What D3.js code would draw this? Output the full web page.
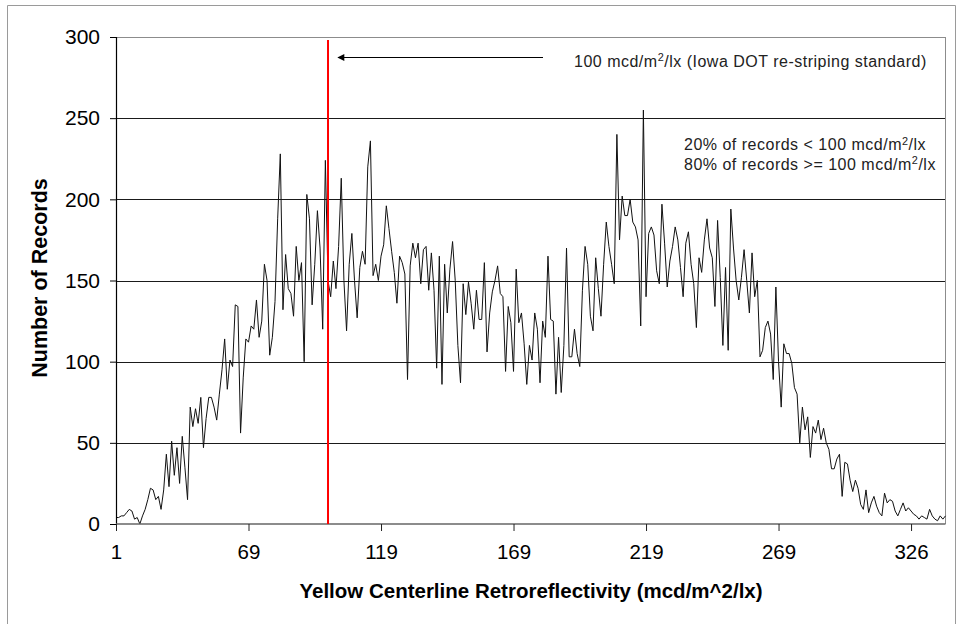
<!DOCTYPE html>
<html>
<head>
<meta charset="utf-8">
<script src="https://cdn.jsdelivr.net/npm/d3@7"></script>
<style>
  html, body { margin: 0; padding: 0; background: #fff; }
  svg { display: block; font-family: "Liberation Sans", Arial, sans-serif; }
</style>
</head>
<body>
<div id="chart"></div>
<script>
// ---- data ----
const records = [
  4,4,5,5,7,9,8,3,4,0, 5,9,15,22,21,15,17,9,21,43,
  23,51,30,47,25,54,35,15,72,60, 71,62,78,47,65,78,78,72,64,80,
  95,114,83,101,97,135,134,56,90,114, 112,122,120,138,115,125,160,150,104,115,
  137,188,228,132,166,145,142,128,171,150, 161,100,203,188,135,160,193,170,120,224,
  150,140,162,145,171,213,150,119,160,179, 150,127,158,168,160,220,236,153,160,150,
  165,172,196,182,168,155,136,165,161,154, 89,159,173,164,173,148,169,171,144,167,
  144,96,165,86,160,130,157,174,150,110, 87,148,129,149,136,120,144,126,126,161,
  106,130,143,150,159,142,140,94,134,124, 94,157,124,130,111,86,110,101,130,120,
  87,125,115,165,126,125,80,115,81,110, 170,103,103,120,105,97,144,171,160,128,
  119,164,145,128,160,186,171,160,148,240, 175,202,190,190,200,186,183,175,122,255,
  140,179,183,178,156,148,197,173,146,162, 171,183,175,158,140,173,180,160,148,121,
  164,155,175,188,170,164,134,187,152,110, 158,107,194,170,150,138,152,169,150,130,
  167,140,150,103,107,121,125,117,89,146, 100,72,111,105,105,99,84,80,50,72,
  58,66,41,60,56,64,52,59,50,46, 34,34,40,43,17,38,37,27,20,27,
  22,12,9,21,7,13,17,11,7,5, 19,13,15,14,8,5,9,13,8,10,
  8,6,5,3,5,4,3,9,5,3, 2,5,3,5
];
const xTickIndex = [0, 50, 100, 150, 200, 250, 300];
const xTickLabels = ["1", "69", "119", "169", "219", "269", "326"];
const yTicks = [0, 50, 100, 150, 200, 250, 300];
const standardIndex = 80;   // category position of 100 mcd/m2/lx
const xTitle = "Yellow Centerline Retroreflectivity (mcd/m^2/lx)";
const yTitle = "Number of Records";

// ---- layout ----
const W = 957, H = 624;
const plot = { left: 116, right: 945.5, top: 37, bottom: 524 };

const svg = d3.select("#chart").append("svg")
  .attr("width", W).attr("height", H);

svg.append("rect").attr("x", 0).attr("y", 0).attr("width", W).attr("height", H).attr("fill", "#fff");
// outer chart border
svg.append("path")
  .attr("d", `M7.5,${H + 2} V5.5 H955.5 V${H + 2}`)
  .attr("fill", "none").attr("stroke", "#9a9a9a").attr("stroke-width", 1);

const x = d3.scaleLinear().domain([0, records.length - 1]).range([plot.left, plot.right]);
const y = d3.scaleLinear().domain([0, 300]).range([plot.bottom, plot.top]);

// gridlines
svg.append("g").selectAll("line").data(yTicks.filter(d => d > 0)).join("line")
  .attr("x1", plot.left).attr("x2", plot.right)
  .attr("y1", d => Math.round(y(d)) + 0.5).attr("y2", d => Math.round(y(d)) + 0.5)
  .attr("stroke", d => d === 300 ? "#8c8c8c" : "#1a1a1a").attr("stroke-width", 1);

// plot right border
svg.append("line")
  .attr("x1", plot.right).attr("x2", plot.right)
  .attr("y1", y(300)).attr("y2", plot.bottom)
  .attr("stroke", "#8c8c8c").attr("stroke-width", 1);

// data line
const line = d3.line().x((d, i) => x(i)).y(d => y(d));
svg.append("path").datum(records)
  .attr("d", line)
  .attr("fill", "none").attr("stroke", "#111").attr("stroke-width", 1)
  .attr("stroke-linejoin", "miter");

// y axis
const yAxis = d3.axisLeft(y).tickValues(yTicks).tickSize(6).tickPadding(10);
const gy = svg.append("g").attr("transform", `translate(${plot.left},0)`).call(yAxis);
gy.select(".domain").attr("stroke", "#000").attr("stroke-width", 1.2);
gy.selectAll(".tick line").attr("stroke", "#000");
gy.selectAll(".tick text").attr("font-size", 21).attr("fill", "#000")
  .attr("font-family", "'Liberation Sans', Arial, sans-serif");

// x axis
const xAxis = d3.axisBottom(x).tickValues(xTickIndex)
  .tickFormat((d, i) => xTickLabels[i]).tickSize(7).tickPadding(13);
const gx = svg.append("g").attr("transform", `translate(0,${plot.bottom})`).call(xAxis);
gx.select(".domain").attr("stroke", "#666").attr("stroke-width", 1.6)
  .attr("d", `M${plot.left},0H${plot.right}`);
gx.selectAll(".tick line").attr("stroke", "#222");
gx.selectAll(".tick text").attr("font-size", 20.5).attr("fill", "#000")
  .attr("font-family", "'Liberation Sans', Arial, sans-serif");

// red standard line
svg.append("line")
  .attr("x1", x(standardIndex)).attr("x2", x(standardIndex))
  .attr("y1", 40).attr("y2", plot.bottom)
  .attr("stroke", "#ff0000").attr("stroke-width", 2);

// arrow
svg.append("defs").append("marker")
  .attr("id", "arrowhead").attr("viewBox", "0 0 10 10")
  .attr("refX", 9).attr("refY", 5).attr("markerWidth", 9).attr("markerHeight", 7)
  .attr("markerUnits", "userSpaceOnUse").attr("orient", "auto")
  .append("path").attr("d", "M0,0 L10,5 L0,10 z").attr("fill", "#000");
svg.append("line")
  .attr("x1", 543).attr("x2", x(standardIndex) + 10)
  .attr("y1", 57.5).attr("y2", 57.5)
  .attr("stroke", "#000").attr("stroke-width", 1.2)
  .attr("marker-end", "url(#arrowhead)");

// annotation texts with superscript
function supText(g, xPos, yPos, pre, sup, post, size) {
  const t = g.append("text").attr("x", xPos).attr("y", yPos)
    .attr("font-size", size).attr("letter-spacing", 0.5).attr("fill", "#222");
  t.append("tspan").text(pre);
  t.append("tspan").attr("font-size", size * 0.68).attr("dy", -size * 0.33).text(sup);
  t.append("tspan").attr("dy", size * 0.33).text(post);
  return t;
}
const ann = svg.append("g");
supText(ann, 574, 66.5, "100 mcd/m", "2", "/lx (Iowa DOT re-striping standard)", 16);
supText(ann, 684, 150, "20% of records < 100 mcd/m", "2", "/lx", 16);
supText(ann, 684, 169.5, "80% of records >= 100 mcd/m", "2", "/lx", 16);

// axis titles
svg.append("text")
  .attr("x", 531).attr("y", 598)
  .attr("text-anchor", "middle").attr("font-size", 20.5).attr("font-weight", "bold")
  .attr("fill", "#000").text(xTitle);
svg.append("text")
  .attr("transform", `translate(47,278) rotate(-90)`)
  .attr("text-anchor", "middle").attr("font-size", 21.5).attr("font-weight", "bold")
  .attr("fill", "#000").text(yTitle);
</script>
</body>
</html>
